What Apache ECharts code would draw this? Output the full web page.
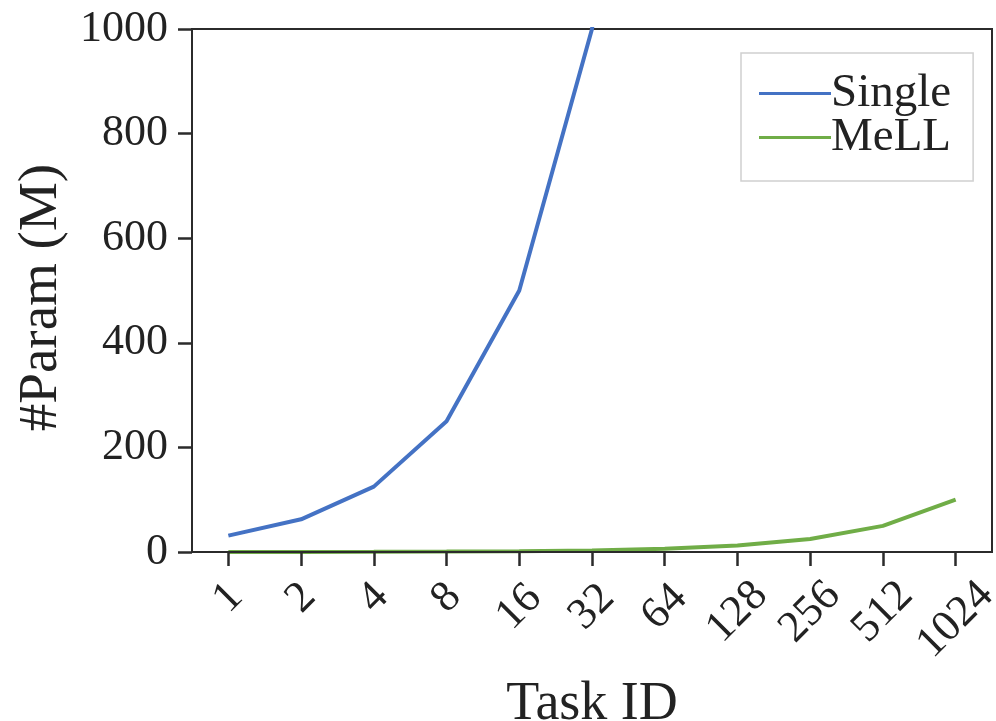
<!DOCTYPE html>
<html>
<head>
<meta charset="utf-8">
<script src="https://cdn.jsdelivr.net/npm/echarts@6/dist/echarts.min.js"></script>
<style>
  html, body { margin: 0; padding: 0; background: #fff; }
  #chart { width: 996px; height: 721px; }
</style>
</head>
<body>
<div id="chart"></div>
<script>
const taskIds = ["1", "2", "4", "8", "16", "32", "64", "128", "256", "512", "1024"];
const singleParams = [31.25, 62.5, 125, 250, 500, 1000, 2000, 4000, 8000, 16000, 32000];
const mellParams = [0.1, 0.2, 0.4, 0.8, 1.6, 3.1, 6.3, 12.5, 25, 50, 100];
const yTicks = [0, 200, 400, 600, 800, 1000];

const chart = echarts.init(document.getElementById("chart"));
const serif = "Liberation Serif, DejaVu Serif, serif";
const axisColor = "#2b2b2b";
const textColor = "#222";

// rotated labels: push longer ones down so their tops line up (like matplotlib)
function labelStyle(pad) {
  return { fontFamily: serif, fontSize: 44, color: textColor, padding: [pad, pad, 0, 0] };
}

const tickStyle = { show: true, inside: false, length: 14, lineStyle: { color: axisColor, width: 2.5 } };

const option = {
  backgroundColor: "#fff",
  animation: false,
  grid: {
    left: 192,
    right: 4,
    top: 29,
    bottom: 169,
    outerBoundsMode: "none",
    show: true,
    borderColor: axisColor,
    borderWidth: 2,
  },
  legend: {
    data: ["Single", "MeLL"],
    orient: "vertical",
    left: 741,
    top: 53,
    padding: [17, 22, 20, 18],
    itemGap: -3,
    itemWidth: 72,
    itemHeight: 3,
    icon: "rect",
    borderColor: "#d0d0d0",
    borderWidth: 1.5,
    textStyle: {
      fontFamily: serif,
      fontSize: 47,
      color: textColor,
      padding: [0, 0, 0, -5],
    },
  },
  xAxis: {
    type: "category",
    data: taskIds,
    boundaryGap: true,
    name: "Task ID",
    nameLocation: "middle",
    nameGap: 126,
    nameTextStyle: { fontFamily: serif, fontSize: 54, color: textColor },
    axisLine: { show: true, lineStyle: { color: axisColor, width: 2 } },
    axisTick: Object.assign({ alignWithLabel: true }, tickStyle),
    axisLabel: {
      interval: 0,
      rotate: 45,
      align: "center",
      verticalAlign: "middle",
      margin: 46,
      formatter: (v) => "{d" + v.length + "|" + v + "}",
      rich: {
        d1: labelStyle(0),
        d2: labelStyle(13),
        d3: labelStyle(20),
        d4: labelStyle(31),
      },
    },
    splitLine: { show: false },
    z: 10,
  },
  yAxis: {
    type: "value",
    min: yTicks[0],
    max: yTicks[yTicks.length - 1],
    interval: 200,
    name: "#Param (M)",
    nameLocation: "middle",
    nameGap: 112,
    nameTextStyle: { fontFamily: serif, fontSize: 55, color: textColor, padding: [0, 14, 0, 0] },
    axisLine: { show: true, lineStyle: { color: axisColor, width: 2 } },
    axisTick: tickStyle,
    axisLabel: {
      margin: 24,
      fontFamily: serif,
      fontSize: 44,
      color: textColor,
      formatter: (v) => String(v),
    },
    splitLine: { show: false },
    z: 10,
  },
  series: [
    {
      name: "Single",
      type: "line",
      data: singleParams,
      showSymbol: false,
      symbol: "none",
      clip: true,
      lineStyle: { color: "#4472c4", width: 4 },
      itemStyle: { color: "#4472c4" },
    },
    {
      name: "MeLL",
      type: "line",
      data: mellParams,
      showSymbol: false,
      symbol: "none",
      clip: true,
      lineStyle: { color: "#70ad47", width: 4 },
      itemStyle: { color: "#70ad47" },
    },
  ],
};

chart.setOption(option);
</script>
</body>
</html>
